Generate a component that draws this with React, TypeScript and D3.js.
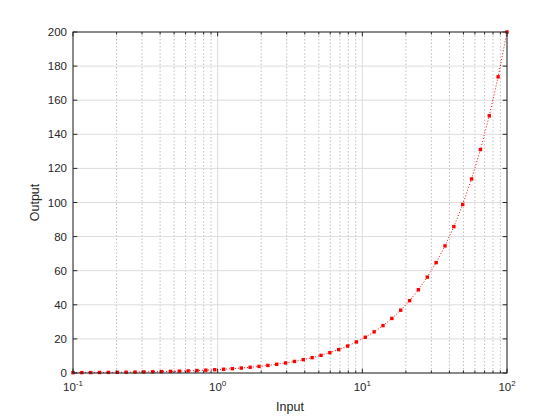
import React from "react";
import * as d3 from "d3";

const inputValues = [0.1, 0.11514, 0.13257, 0.15264, 0.17575, 0.20236, 0.23300, 0.26827, 0.30888, 0.35565, 0.40949, 0.47149, 0.54287, 0.62506, 0.71969, 0.82864, 0.95410, 1.09854, 1.26486, 1.45635, 1.67683, 1.93070, 2.22300, 2.55955, 2.94705, 3.39322, 3.90694, 4.49843, 5.17947, 5.96362, 6.86649, 7.90604, 9.10298, 10.4811, 12.0679, 13.8950, 15.9986, 18.4207, 21.2095, 24.4205, 28.1177, 32.3746, 37.2759, 42.9193, 49.4171, 56.8987, 65.5129, 75.4312, 86.8511, 100];
const outputValues = [0.2, 0.2303, 0.2651, 0.3053, 0.3515, 0.4047, 0.4660, 0.5365, 0.6178, 0.7113, 0.8190, 0.9430, 1.0857, 1.2501, 1.4394, 1.6573, 1.9082, 2.1971, 2.5297, 2.9127, 3.3537, 3.8614, 4.4460, 5.1191, 5.8941, 6.7864, 7.8139, 8.9969, 10.359, 11.927, 13.733, 15.812, 18.206, 20.962, 24.136, 27.790, 31.997, 36.841, 42.419, 48.839, 56.235, 64.749, 74.552, 85.839, 98.834, 113.80, 131.03, 150.86, 173.70, 200];
const yTicks = [0, 20, 40, 60, 80, 100, 120, 140, 160, 180, 200];
const xMajorExps = [-1, 0, 1, 2];
const xLabel = "Input";
const yLabel = "Output";

export default function App() {
  const W = 560, H = 420;
  const L = 73, R = 507, T = 32, B = 373;
  const x = d3.scaleLog().domain([0.1, 100]).range([L, R]);
  const y = d3.scaleLinear().domain([0, 200]).range([B, T]);
  const minor: number[] = [];
  for (let e = -1; e < 2; e++) for (let m = 2; m <= 9; m++) minor.push(m * Math.pow(10, e));
  const pts = inputValues.map((v, i) => [x(v), y(outputValues[i])] as [number, number]);
  const line = d3.line()(pts) || "";
  const axisColor = "#262626";
  const font = "'Liberation Sans', Arial, sans-serif";
  const tl = 4.3;
  return (
    <svg width={W} height={H} style={{ position: "absolute", left: 0, top: 0, background: "#fff" }} fontFamily={font}>
      <rect x={0} y={0} width={W} height={H} fill="#fff" />
      {minor.map((v, i) => (
        <line key={"mg" + i} x1={x(v)} x2={x(v)} y1={T} y2={B} stroke="#b0b0b0" strokeWidth={0.8} strokeDasharray="1.5,2" />
      ))}
      {xMajorExps.map((e) => (
        <line key={"xg" + e} x1={x(Math.pow(10, e))} x2={x(Math.pow(10, e))} y1={T} y2={B} stroke="#dcdcdc" strokeWidth={1} />
      ))}
      {yTicks.map((v) => (
        <line key={"yg" + v} x1={L} x2={R} y1={y(v)} y2={y(v)} stroke="#dcdcdc" strokeWidth={1} />
      ))}
      <path d={line} fill="none" stroke="#ff0000" strokeWidth={1} strokeDasharray="1,2" />
      {pts.map((p, i) => (
        <rect key={"m" + i} x={p[0] - 1.7} y={p[1] - 1.7} width={3.4} height={3.4} fill="#ff0000" />
      ))}
      <rect x={L} y={T} width={R - L} height={B - T} fill="none" stroke={axisColor} strokeWidth={1} />
      {yTicks.map((v) => (
        <g key={"yt" + v}>
          <line x1={L} x2={L + tl} y1={y(v)} y2={y(v)} stroke={axisColor} />
          <line x1={R} x2={R - tl} y1={y(v)} y2={y(v)} stroke={axisColor} />
          <text x={L - 6} y={y(v)} dy="0.35em" textAnchor="end" fontSize={11.5} fill={axisColor}>{v}</text>
        </g>
      ))}
      {minor.map((v, i) => (
        <g key={"mt" + i}>
          <line x1={x(v)} x2={x(v)} y1={B} y2={B - 2.5} stroke={axisColor} />
          <line x1={x(v)} x2={x(v)} y1={T} y2={T + 2.5} stroke={axisColor} />
        </g>
      ))}
      {xMajorExps.map((e) => {
        const px = x(Math.pow(10, e));
        return (
          <g key={"xt" + e}>
            <line x1={px} x2={px} y1={B} y2={B - tl} stroke={axisColor} />
            <line x1={px} x2={px} y1={T} y2={T + tl} stroke={axisColor} />
            <text x={px} y={B + 18} textAnchor="middle" fontSize={11.5} fill={axisColor}>
              10<tspan dy={-5} fontSize={8}>{e}</tspan>
            </text>
          </g>
        );
      })}
      <text x={(L + R) / 2} y={411} textAnchor="middle" fontSize={12.5} fill={axisColor}>{xLabel}</text>
      <text transform={`translate(39,${(T + B) / 2}) rotate(-90)`} textAnchor="middle" fontSize={12.5} fill={axisColor}>{yLabel}</text>
    </svg>
  );
}
